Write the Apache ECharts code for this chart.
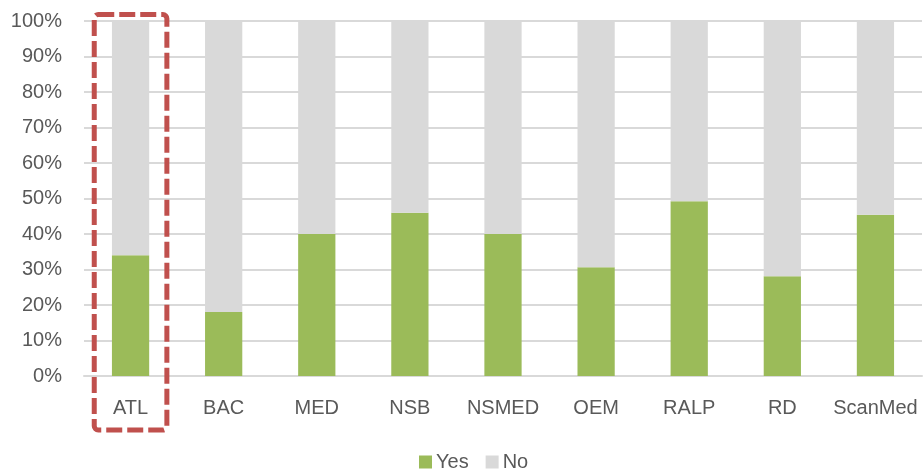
<!DOCTYPE html>
<html>
<head>
<meta charset="utf-8">
<script src="https://cdn.jsdelivr.net/npm/echarts@6/dist/echarts.min.js"></script>
<style>
  html, body { margin: 0; padding: 0; background: #ffffff; }
  #chart { width: 923px; height: 470px; }
</style>
</head>
<body>
<div id="chart"></div>
<script>
// Share of "Yes" answers per site (percent); "No" fills the rest to 100%.
const categories = ['ATL', 'BAC', 'MED', 'NSB', 'NSMED', 'OEM', 'RALP', 'RD', 'ScanMed'];
const yesValues = [34, 18, 40, 46, 40, 30.6, 49.2, 28.1, 45.4];
const noValues = yesValues.map(v => +(100 - v).toFixed(1));
const yTicks = [0, 10, 20, 30, 40, 50, 60, 70, 80, 90, 100];
const highlighted = 'ATL';

const FONT = '"Liberation Sans", Arial, sans-serif';
const TEXT = '#595959';

const chart = echarts.init(document.getElementById('chart'), null, { renderer: 'canvas' });

const GRID = { left: 84, right: 1, top: 21, height: 355 };

chart.setOption({
  backgroundColor: '#ffffff',
  animation: false,
  grid: GRID,
  legend: {
    data: ['Yes', 'No'],
    top: 447,
    left: 414,
    itemWidth: 13,
    itemHeight: 13,
    itemGap: 17,
    icon: 'rect',
    textStyle: { color: TEXT, fontSize: 20, fontFamily: FONT, padding: [0, 0, 0, -1] }
  },
  xAxis: {
    type: 'category',
    data: categories,
    axisLine: { show: true, lineStyle: { color: '#D9D9D9', width: 2 } },
    axisTick: { show: false },
    axisLabel: { color: TEXT, fontSize: 20, fontFamily: FONT, margin: 22, interval: 0 }
  },
  yAxis: {
    type: 'value',
    min: yTicks[0],
    max: yTicks[yTicks.length - 1],
    interval: 10,
    axisLine: { show: false },
    axisTick: { show: false },
    splitLine: { lineStyle: { color: '#D9D9D9', width: 2 } },
    axisLabel: { color: TEXT, fontSize: 20, fontFamily: FONT, margin: 22, formatter: '{value}%' }
  },
  series: [
    {
      name: 'Yes',
      type: 'bar',
      stack: 'total',
      barWidth: '40%',
      data: yesValues,
      itemStyle: { color: '#9BBB59' }
    },
    {
      name: 'No',
      type: 'bar',
      stack: 'total',
      barWidth: '40%',
      data: noValues,
      itemStyle: { color: '#D9D9D9' }
    }
  ]
});

// Dashed frame around the highlighted category, placed from the axis scale.
const cx = chart.convertToPixel({ xAxisIndex: 0 }, highlighted);
const band = (chart.getWidth() - GRID.left - GRID.right) / categories.length;
const halfW = band * 0.39;
chart.setOption({
  graphic: [{
    type: 'rect',
    shape: { x: cx - halfW, y: 14.5, width: halfW * 2, height: 415.5, r: 4 },
    style: {
      fill: 'none',
      stroke: '#C0504D',
      lineWidth: 5,
      lineDash: [16, 5]
    },
    z: 100
  }]
});
</script>
</body>
</html>
